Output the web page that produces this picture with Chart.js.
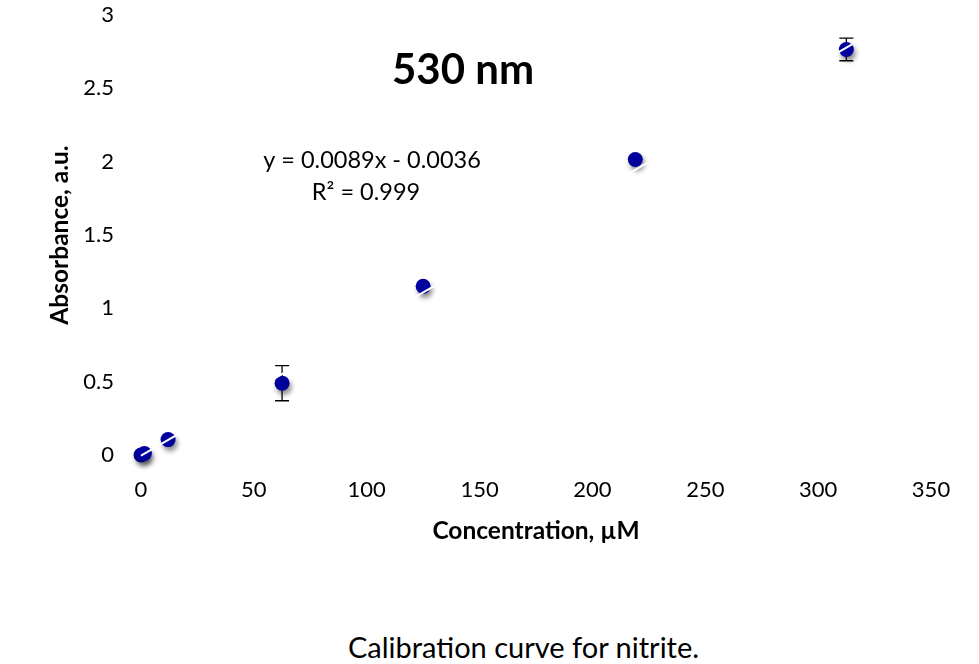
<!DOCTYPE html>
<html><head><meta charset="utf-8">
<script src="https://cdn.jsdelivr.net/npm/chart.js@4"></script>
<style>
html,body{margin:0;padding:0;background:#fff;}
#wrap{position:relative;width:979px;height:664px;overflow:hidden;}
#caption{position:absolute;left:34px;width:979px;top:629px;text-align:center;font-family:Lato,"Open Sans",sans-serif;font-size:29px;color:#000;line-height:36px;white-space:nowrap;}
canvas{display:block;}
</style></head><body>
<div id="wrap"><canvas id="c" width="979" height="600"></canvas><div id="caption">Calibration curve for nitrite.</div></div>
<script>
const concentration = [0, 1.5, 12, 62.5, 125, 219, 312.5];
const absorbance = [0.0, 0.01, 0.105, 0.49, 1.15, 2.015, 2.765];
const absorbanceErr = [0, 0, 0, 0.12, 0, 0, 0.077];
const xTicks = [0, 50, 100, 150, 200, 250, 300, 350];
const yTicks = [0, 0.5, 1, 1.5, 2, 2.5, 3];
const slope = 0.0089, intercept = -0.0036;
const trendX = [0, 315];
const chartTitle = "530 nm";
const eqLines = ["y = 0.0089x - 0.0036", "R² = 0.999"];
const xTitle = "Concentration, µM";
const yTitle = "Absorbance, a.u.";

const FONT = 'Lato, "Open Sans", sans-serif';

const pts = concentration.map((x, i) => ({x: x, y: absorbance[i]}));
const trend = trendX.map(x => ({x: x, y: slope * x + intercept}));

const shadowPlugin = {
  id: 'shadow',
  beforeDatasetDraw(chart, args) {
    if (args.index === 0) {
      const ctx = chart.ctx;
      ctx.save();
      ctx.shadowColor = 'rgba(0,0,0,0.45)';
      ctx.shadowBlur = 5;
      ctx.shadowOffsetX = 2;
      ctx.shadowOffsetY = 4;
    }
  },
  afterDatasetDraw(chart, args) {
    if (args.index === 0) chart.ctx.restore();
  }
};

const errPlugin = {
  id: 'errbars',
  beforeDatasetsDraw(chart) {
    const ctx = chart.ctx, xs = chart.scales.x, ys = chart.scales.y;
    ctx.save();
    ctx.strokeStyle = '#000';
    ctx.lineWidth = 1.3;
    concentration.forEach((c, i) => {
      const e = absorbanceErr[i];
      if (!e) return;
      const px = xs.getPixelForValue(c);
      const t = ys.getPixelForValue(absorbance[i] + e);
      const b = ys.getPixelForValue(absorbance[i] - e);
      ctx.beginPath();
      ctx.moveTo(px, t); ctx.lineTo(px, b);
      ctx.moveTo(px - 7, t); ctx.lineTo(px + 7, t);
      ctx.moveTo(px - 7, b); ctx.lineTo(px + 7, b);
      ctx.stroke();
    });
    ctx.restore();
  }
};

const textPlugin = {
  id: 'texts',
  afterDraw(chart) {
    const ctx = chart.ctx;
    ctx.save();
    ctx.fillStyle = '#000';
    ctx.textAlign = 'center';
    ctx.textBaseline = 'middle';
    ctx.font = 'bold 42px ' + FONT;
    ctx.fillText(chartTitle, 463, 70);
    ctx.font = '23.5px ' + FONT;
    ctx.fillText(eqLines[0], 372, 160);
    ctx.fillText(eqLines[1], 366, 192);
    ctx.restore();
  }
};

function noPad(s) { s.paddingTop = 0; s.paddingBottom = 0; s.paddingLeft = 0; s.paddingRight = 0; }

new Chart(document.getElementById('c'), {
  type: 'scatter',
  data: {
    datasets: [
      {
        data: pts,
        backgroundColor: '#00009C',
        borderColor: '#00009C',
        pointRadius: 7.5,
        pointHoverRadius: 7.5,
        borderWidth: 0,
        clip: false,
        order: 1
      },
      {
        type: 'line',
        data: trend,
        borderColor: '#ffffff',
        borderWidth: 2,
        pointRadius: 0,
        fill: false,
        clip: false,
        order: 0
      }
    ]
  },
  options: {
    responsive: false,
    animation: false,
    layout: {padding: {top: 15, right: 48, left: 0, bottom: 0}},
    plugins: {legend: {display: false}, tooltip: {enabled: false}},
    scales: {
      x: {
        type: 'linear', min: 0, max: 350,
        grid: {display: false, drawTicks: false},
        border: {display: false},
        afterBuildTicks: s => { s.ticks = xTicks.map(v => ({value: v})); },
        ticks: {font: {family: FONT, size: 22}, color: '#000', padding: 22, maxRotation: 0, callback: v => String(v)},
        title: {display: true, text: xTitle, font: {family: FONT, size: 24.5, weight: 'bold'}, color: '#000', padding: {top: 0, bottom: 54}},
        afterFit: s => { s.height = 145; noPad(s); }
      },
      y: {
        type: 'linear', min: 0, max: 3,
        grid: {display: false, drawTicks: false},
        border: {display: false},
        afterBuildTicks: s => { s.ticks = yTicks.map(v => ({value: v})); },
        ticks: {font: {family: FONT, size: 22}, color: '#000', padding: 27, callback: v => String(v)},
        title: {display: true, text: yTitle, font: {family: FONT, size: 24.5, weight: 'bold'}, color: '#000', padding: {top: 45, bottom: 0}},
        afterFit: s => { s.width = 141; noPad(s); }
      }
    }
  },
  plugins: [shadowPlugin, errPlugin, textPlugin]
});
</script>
</body></html>
